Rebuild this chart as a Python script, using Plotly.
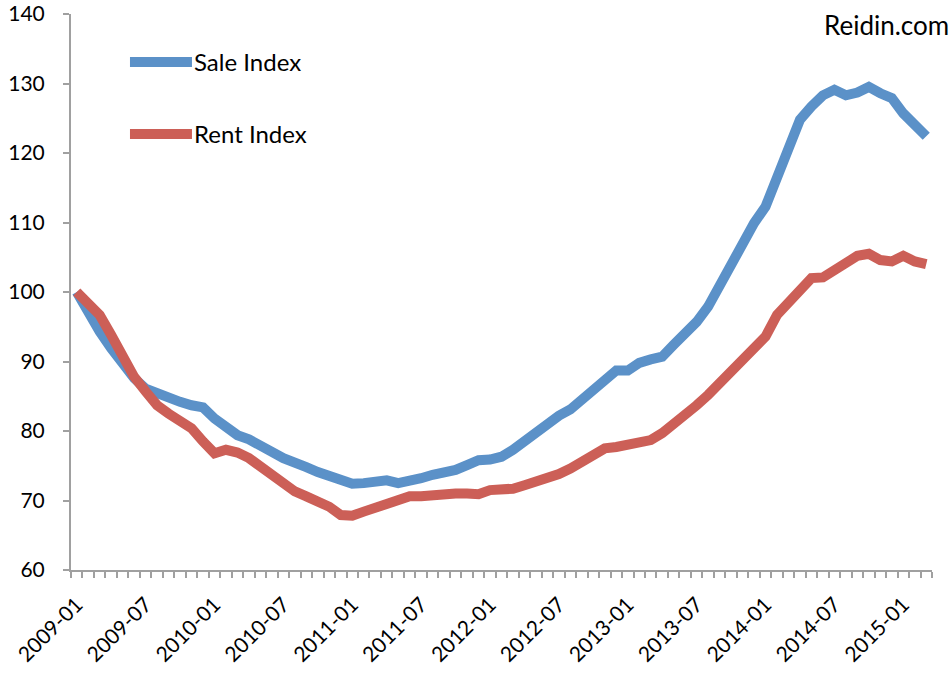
import plotly.graph_objects as go

months = [f"{y}-{m:02d}" for y in range(2009, 2016) for m in range(1, 13)][:75]

sale_index = [100, 97.0, 94.3, 91.9, 89.5, 87.6, 86.1, 85.4, 84.7, 84.2, 83.7, 83.4,
              81.8, 80.6, 79.4, 78.8, 77.7, 77.0, 76.1, 75.3, 74.8, 74.1, 73.5, 72.9,
              72.4, 72.5, 72.7, 72.9, 72.5, 72.7, 73.2, 73.7, 74.0, 74.4, 75.1, 75.8,
              75.9, 76.3, 77.3, 78.5, 79.9, 81.2, 82.2, 83.1, 84.5, 86.0, 87.3, 88.7,
              88.7, 89.8, 90.3, 90.7, 92.4, 94.0, 95.7, 97.9, 101.0, 104.4, 107.2, 109.9,
              112.3, 116.4, 120.7, 124.8, 126.7, 128.3, 129.1, 128.3, 128.7, 129.5, 128.6, 127.9,
              125.7, 124.0, 122.4]

rent_index = [100, 98.5, 96.7, 93.8, 90.9, 87.8, 85.7, 83.7, 82.5, 81.6, 80.4, 78.5,
              76.8, 77.3, 76.9, 76.1, 74.9, 73.5, 72.2, 71.3, 70.6, 69.8, 69.1, 67.9,
              67.8, 68.4, 68.9, 69.4, 69.8, 70.6, 70.6, 70.8, 70.9, 71.0, 71.0, 70.9,
              71.5, 71.6, 71.7, 72.2, 72.7, 73.2, 73.8, 74.6, 75.7, 76.8, 77.5, 77.7,
              78.0, 78.5, 78.7, 79.7, 80.9, 82.3, 83.7, 85.2, 86.9, 88.8, 90.1, 91.7,
              93.6, 96.7, 98.6, 100.3, 102.0, 102.1, 103.2, 104.4, 105.2, 105.5, 104.6, 104.4,
              105.2, 104.4, 104.0]

series_names = ["Sale Index", "Rent Index"]
series_colors = ["#5B91C8", "#CC5F57"]

tick_labels = months[::6]
y_ticks = [60, 70, 80, 90, 100, 110, 120, 130, 140]

x_idx = list(range(len(months)))
tick_pos = [months.index(t) for t in tick_labels]

FONT = "Lato, 'Open Sans', sans-serif"
AXIS = "#A0A0A0"
LW = 10

fig = go.Figure()
for name, vals, col in zip(series_names, [sale_index, rent_index], series_colors):
    fig.add_trace(go.Scatter(x=x_idx, y=vals, name=name, mode="lines",
                             line=dict(color=col, width=LW, shape="linear"),
                             customdata=months,
                             hovertemplate="%{customdata}: %{y}<extra>" + name + "</extra>"))

# legend drawn as key lines + labels (paper coordinates)
legend_y = [0.9137, 0.7842]
shapes = []
annotations = []
for name, col, ly in zip(series_names, series_colors, legend_y):
    shapes.append(dict(type="line", xref="paper", yref="paper",
                       x0=0.0685, x1=0.1405, y0=ly, y1=ly,
                       line=dict(color=col, width=LW)))
    annotations.append(dict(text=name, xref="paper", yref="paper",
                            x=0.1405, y=ly, xanchor="left", yanchor="middle",
                            showarrow=False, font=dict(size=24)))
annotations.append(dict(text="Reidin.com", xref="paper", yref="paper",
                        x=1.0225, y=0.98, xanchor="right", yanchor="middle",
                        showarrow=False, font=dict(size=26)))

fig.update_layout(
    width=951, height=673, autosize=False,
    margin=dict(l=71, r=19, t=14, b=103),
    paper_bgcolor="white", plot_bgcolor="white",
    font=dict(family=FONT, size=21, color="black"),
    showlegend=False,
    shapes=shapes,
    annotations=annotations,
)

fig.update_xaxes(
    range=[-0.5, len(months) - 0.5], automargin=False,
    tickmode="array", tickvals=tick_pos, ticktext=tick_labels,
    tickangle=-45, ticks="", showgrid=False, zeroline=False,
    showline=True, linecolor=AXIS, linewidth=2,
    ticklabelstandoff=12,
    minor=dict(ticks="outside", tick0=-0.5, dtick=1, ticklen=6, tickcolor=AXIS, tickwidth=1.5, showgrid=False),
)
fig.update_yaxes(
    range=[60, 140.0001], automargin=False, tickmode="array", tickvals=y_ticks,
    ticks="outside", ticklen=6, tickcolor=AXIS, tickwidth=1.5,
    showgrid=False, zeroline=False, showline=True, linecolor=AXIS, linewidth=2,
    ticklabelstandoff=14, ticklabeloverflow="allow",
)

# remove the default 8px page margin so the 951x673 figure fills the window
fig.write_html("out.html", config={"displayModeBar": False},
               post_script="document.body.style.margin='0';document.body.style.overflow='hidden';")
